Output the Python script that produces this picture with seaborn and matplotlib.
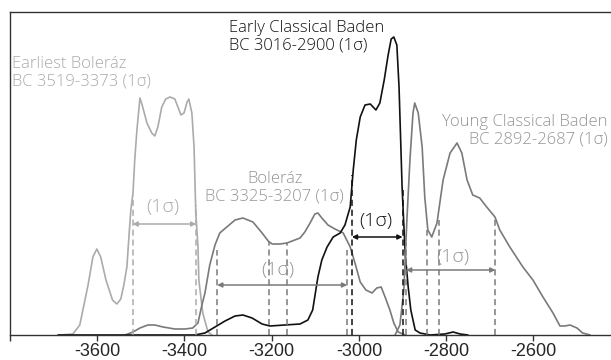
import matplotlib
matplotlib.use("Agg")
import matplotlib.pyplot as plt
import seaborn as sns
import pandas as pd

# ---- data (years BC as negative numbers, probability density in arbitrary units) ----
earliest_x = [-3686, -3656, -3640, -3621, -3610, -3601, -3592, -3580, -3565, -3555,
              -3546, -3539, -3532, -3527, -3523, -3518, -3514, -3509, -3504, -3502,
              -3497, -3486, -3475, -3468, -3461, -3452, -3443, -3433, -3422, -3415,
              -3408, -3401, -3394, -3390, -3383, -3378, -3374, -3369, -3367, -3358,
              -3346, -3337]
earliest_y = [0, 1, 10, 50, 78, 86, 78, 55, 35, 31,
              36, 50, 68, 100, 125, 142, 175, 205, 228, 237,
              230, 212, 202, 199, 208, 228, 236, 238, 236, 228,
              220, 222, 233, 236, 222, 188, 122, 88, 55, 22,
              3, 0]

boleraz_x = [-3536, -3518, -3502, -3484, -3468, -3449, -3422, -3399, -3381, -3369,
             -3360, -3353, -3342, -3330, -3319, -3303, -3284, -3266, -3243, -3222,
             -3208, -3199, -3181, -3165, -3147, -3135, -3124, -3112, -3101, -3094,
             -3085, -3071, -3055, -3036, -3020, -3009, -2997, -2984, -2970, -2959,
             -2949, -2940, -2929, -2920, -2910, -2894]
boleraz_y = [0, 3, 7, 10, 10, 8, 6, 6, 7, 12,
             30, 42, 70, 90, 102, 108, 115, 117, 113, 102,
             94, 91, 91, 92, 95, 97, 103, 112, 121, 122,
             117, 110, 106, 102, 88, 72, 53, 45, 42, 47,
             48, 38, 25, 12, 3, 0]

classical_x = [-3690, -3600, -3500, -3420, -3376, -3353, -3330, -3307, -3284, -3266,
               -3245, -3222, -3204, -3170, -3135, -3117, -3106, -3094, -3085, -3073,
               -3059, -3043, -3032, -3020, -3013, -3006, -2997, -2986, -2974, -2961,
               -2952, -2942, -2933, -2926, -2920, -2913, -2908, -2901, -2894, -2887,
               -2881, -2871, -2860, -2837, -2803, -2784, -2768, -2750]
classical_y = [0, 0, 0, 0, 0, 2, 8, 14, 19, 20,
               17, 11, 9, 10, 11, 15, 25, 58, 75, 88,
               98, 102, 110, 128, 165, 195, 218, 230, 231, 225,
               232, 255, 280, 296, 298, 290, 248, 148, 82, 48,
               25, 5, 2, 0, 1, 3, 1, 0]

young_x = [-2917, -2906, -2897, -2890, -2883, -2876, -2872, -2864, -2855, -2849,
           -2842, -2833, -2821, -2807, -2791, -2775, -2764, -2752, -2739, -2723,
           -2707, -2688, -2677, -2654, -2624, -2601, -2578, -2555, -2539, -2528,
           -2516, -2500, -2487, -2470]
young_y = [0, 10, 45, 115, 175, 222, 232, 222, 188, 138,
           105, 98, 112, 155, 182, 192, 182, 155, 140, 137,
           128, 118, 105, 88, 68, 55, 38, 22, 9, 9,
           10, 7, 2, 0]

# 1-sigma boundaries and dashed line heights
earliest_bounds = [-3519, -3373]
earliest_bound_h = [140, 130]
boleraz_bounds = [-3325, -3207, -3165, -3027]
boleraz_bound_h = [85, 93, 92, 85]
classical_bounds = [-3016, -2900]
classical_bound_h = [160, 145]
young_bounds = [-2892, -2843, -2816, -2687]
young_bound_h = [92, 105, 115, 117]

xticks = [-3800, -3600, -3400, -3200, -3000, -2800, -2600]
xtick_labels = ["", "-3600", "-3400", "-3200", "-3000", "-2800", "-2600"]

LIGHT = "#ababab"
MID = "#7a7a7a"
MIDTXT = "#959595"
DARK = "#111111"

sns.set_style("ticks")
plt.rcParams["font.family"] = ["Open Sans", "DejaVu Sans"]

fig = plt.figure(figsize=(6.11, 3.60), dpi=100)
ax = fig.add_axes([10 / 611, 25 / 360, 601 / 611, 323 / 360])

curves = [
    (earliest_x, earliest_y, LIGHT),
    (boleraz_x, boleraz_y, MID),
    (classical_x, classical_y, DARK),
    (young_x, young_y, MID),
]
for xs, ys, col in curves:
    df = pd.DataFrame({"year": xs, "p": ys})
    sns.lineplot(data=df, x="year", y="p", color=col, lw=1.2, ax=ax,
                 estimator=None, sort=False)

groups = [
    (earliest_bounds, earliest_bound_h, LIGHT, 111, (-3449, 128), LIGHT),
    (boleraz_bounds, boleraz_bound_h, MID, 50, (-3186, 65), MIDTXT),
    (classical_bounds, classical_bound_h, DARK, 98, (-2961, 114), DARK),
    (young_bounds, young_bound_h, MID, 65, (-2784, 78), MIDTXT),
]
for bounds, hs, col, ay, (tx, ty), tcol in groups:
    ax.vlines(bounds, 0, hs, colors=col, linestyles=(0, (4, 2.5)), lw=1.1)
    ax.annotate("", xy=(bounds[-1], ay), xytext=(bounds[0], ay),
                arrowprops=dict(arrowstyle="<|-|>", color=col, lw=1.1,
                                mutation_scale=7, shrinkA=0, shrinkB=0))
    ax.text(tx, ty, "(1σ)", color=tcol, fontsize=14, fontweight="light",
            ha="center", va="center")

lab = dict(fontsize=12, fontweight="light", va="center", linespacing=1.1)
ax.text(-3796, 262, "Earliest Boleráz\nBC 3519-3373 (1σ)", color=LIGHT,
        ha="left", **lab)
ax.text(-3298, 298, "Early Classical Baden\nBC 3016-2900 (1σ)", color=DARK,
        ha="left", **lab)
ax.text(-3193, 147, "Boleráz\nBC 3325-3207 (1σ)", color=MIDTXT,
        ha="center", **lab)
ax.text(-2429, 204, "Young Classical Baden\nBC 2892-2687 (1σ)", color=MIDTXT,
        ha="right", clip_on=False, **lab)

ax.set_xlim(-3800, -2422)
ax.set_ylim(0, 323)
ax.set_xticks(xticks)
ax.set_xticklabels(xtick_labels, fontfamily="Liberation Sans", fontsize=13)
ax.set_yticks([])
ax.set_xlabel("")
ax.set_ylabel("")
ax.tick_params(axis="x", direction="out", length=4, width=1, color="#333333", pad=2)
for s in ["top", "left", "bottom"]:
    ax.spines[s].set_color("#333333")
    ax.spines[s].set_linewidth(1)
ax.spines["right"].set_visible(False)

fig.savefig("out.png", dpi=100)
